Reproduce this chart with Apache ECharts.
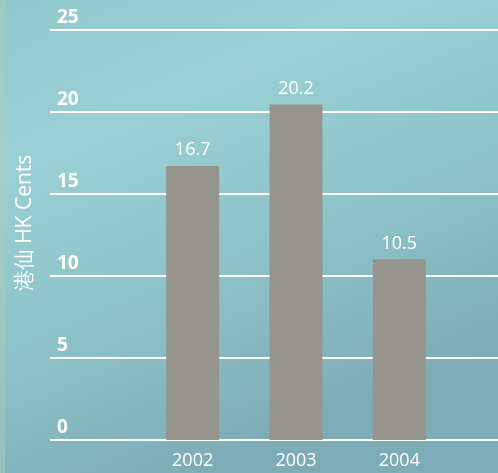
<!DOCTYPE html>
<html>
<head>
<meta charset="utf-8">
<script src="https://cdn.jsdelivr.net/npm/echarts@6/dist/echarts.min.js"></script>
<style>
html,body{margin:0;padding:0;width:498px;height:473px;overflow:hidden;}
#c{width:498px;height:473px;}
</style>
</head>
<body>
<div id="c"></div>
<script>
const categories = ['2002', '2003', '2004'];
const barHeights = [16.7, 20.45, 11.0];
const barLabels = ['16.7', '20.2', '10.5'];
const yTicks = { min: 0, max: 25, interval: 5 };
const axisTitle = '港仙 HK Cents';

const chart = echarts.init(document.getElementById('c'));
const font = '"Open Sans", "Noto Sans", sans-serif';
chart.setOption({
  animation: false,
  backgroundColor: {
    type: 'linear', x: 0, y: 0, x2: 0.4, y2: 1,
    colorStops: [
      { offset: 0, color: '#90c9cd' },
      { offset: 0.3, color: '#9acfd3' },
      { offset: 0.65, color: '#8dc2c8' },
      { offset: 1, color: '#7eacb6' }
    ]
  },
  graphic: [
    { type: 'rect', left: 0, top: 0, shape: { width: 5, height: 473 },
      style: { fill: '#a9cbb9', opacity: 0.5 }, silent: true }
  ],
  grid: [
    { left: 50, right: 0, top: 30, bottom: 33 },
    { left: 141, right: 47, top: 30, bottom: 33 }
  ],
  xAxis: [
    { gridIndex: 0, type: 'value', show: false, min: 0, max: 1 },
    { gridIndex: 1, type: 'category', data: categories,
      axisLine: { show: false }, axisTick: { show: false },
      axisLabel: { color: '#ffffff', fontSize: 18, fontFamily: font, margin: 12 } }
  ],
  yAxis: [
    { gridIndex: 0, type: 'value', min: yTicks.min, max: yTicks.max, interval: yTicks.interval,
      axisLine: { show: false }, axisTick: { show: false },
      splitLine: { show: true, lineStyle: { color: '#ffffff', width: 2 } },
      axisLabel: { inside: true, color: '#ffffff', fontSize: 19, fontWeight: 'bold', fontFamily: font,
        margin: 7, verticalAlign: 'bottom', align: 'left', padding: [0, 0, 3, 0] },
      name: axisTitle, nameLocation: 'middle', nameRotate: 90, nameGap: 14,
      nameTextStyle: { color: '#ffffff', fontSize: 21, fontFamily: font, padding: [0, 0, 0, 24] } },
    { gridIndex: 1, type: 'value', show: false, min: yTicks.min, max: yTicks.max, interval: yTicks.interval,
      splitLine: { show: false } }
  ],
  series: [{
    type: 'bar', xAxisIndex: 1, yAxisIndex: 1, data: barHeights, barWidth: 53,
    itemStyle: { color: '#96958d' },
    label: { show: true, position: 'top', distance: 7, color: '#ffffff', fontSize: 18, fontFamily: font,
      formatter: p => barLabels[p.dataIndex] }
  }]
});
</script>
</body>
</html>
